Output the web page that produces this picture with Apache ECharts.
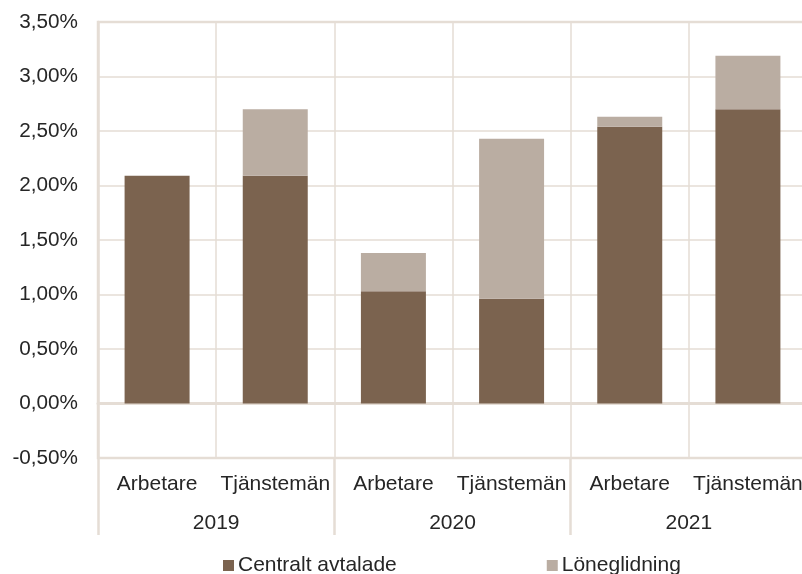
<!DOCTYPE html>
<html>
<head>
<meta charset="utf-8">
<script src="https://cdn.jsdelivr.net/npm/echarts@6/dist/echarts.min.js"></script>
<style>
html,body{margin:0;padding:0;background:#fff;}
#main{width:802px;height:574px;}
</style>
</head>
<body>
<div id="main"></div>
<script>
const categories = ['Arbetare', 'Tjänstemän', 'Arbetare', 'Tjänstemän', 'Arbetare', 'Tjänstemän'];
const years = ['2019', '2020', '2021'];
const centraltAvtalade = [2.09, 2.09, 1.03, 0.96, 2.54, 2.70];
const loneglidning = [0, 0.61, 0.35, 1.47, 0.09, 0.49];
const seriesNames = ['Centralt avtalade', 'Löneglidning'];

const FONT = '"Liberation Sans", Arial, sans-serif';
const TXT = '#262626';
const GRID = '#e5ddd5';
const FS = 21;
const FSY = 20.7;

const chart = echarts.init(document.getElementById('main'), null, {renderer: 'canvas'});
chart.setOption({
  animation: false,
  backgroundColor: '#ffffff',
  textStyle: {fontFamily: FONT},
  grid: {
    left: 98, width: 709, top: 22, height: 436,
    outerBoundsMode: 'none', containLabel: false,
    show: true, borderColor: GRID, borderWidth: 2.5, backgroundColor: 'transparent'
  },
  legend: {
    data: seriesNames,
    left: 218, top: 550,
    itemWidth: 11, itemHeight: 11, itemGap: 150,
    icon: 'rect',
    textStyle: {fontFamily: FONT, fontSize: FS, color: TXT, padding: [0, 0, 0, -1]}
  },
  xAxis: [
    {
      type: 'category',
      data: categories,
      position: 'bottom',
      axisLine: {show: true, lineStyle: {color: GRID, width: 3}},
      axisTick: {show: false},
      splitLine: {show: true, lineStyle: {color: GRID, width: 1.5}},
      axisLabel: {interval: 0, margin: 15.5, fontSize: FS, color: TXT, fontFamily: FONT, hideOverlap: false}
    },
    {
      type: 'category',
      data: years,
      position: 'bottom',
      axisLine: {show: false},
      axisTick: {show: true, interval: 0, length: 77, lineStyle: {color: GRID, width: 2.5}},
      splitLine: {show: false},
      axisLabel: {interval: 0, margin: 54.5, fontSize: FS, color: TXT, fontFamily: FONT}
    }
  ],
  yAxis: {
    type: 'value',
    min: -0.5, max: 3.5, interval: 0.5,
    axisLine: {show: true, lineStyle: {color: GRID, width: 2.5}},
    axisTick: {show: false},
    splitLine: {show: true, lineStyle: {color: GRID, width: 1.5}},
    axisLabel: {
      margin: 20, fontSize: FSY, color: TXT, fontFamily: FONT,
      formatter: v => v.toFixed(2).replace('.', ',') + '%'
    }
  },
  series: [
    {
      name: seriesNames[0], type: 'bar', stack: 'total', xAxisIndex: 0,
      data: centraltAvtalade, barWidth: '55%',
      itemStyle: {color: '#7b634f'}
    },
    {
      name: seriesNames[1], type: 'bar', stack: 'total', xAxisIndex: 0,
      data: loneglidning, barWidth: '55%',
      itemStyle: {color: '#baada2'}
    }
  ]
});
</script>
</body>
</html>
